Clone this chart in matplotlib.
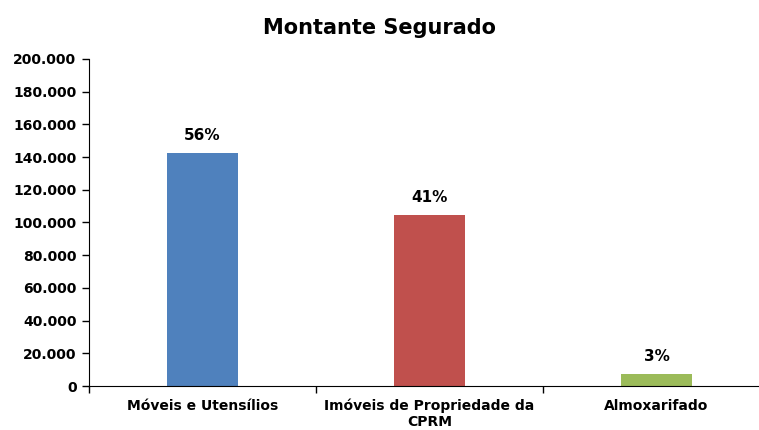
import matplotlib.pyplot as plt
import numpy as np

# data
categories = ['Móveis e Utensílios', 'Imóveis de Propriedade da\nCPRM', 'Almoxarifado']
values = [142500, 104600, 7300]
pct_labels = ['56%', '41%', '3%']
colors = ['#4F81BD', '#C0504D', '#9BBB59']
yticks = list(range(0, 200001, 20000))

plt.rcParams['font.family'] = 'DejaVu Sans'
plt.rcParams['font.weight'] = 'bold'

fig = plt.figure(figsize=(7.59, 4.30), dpi=100)
ax = fig.add_axes([89 / 759, 44 / 430, 681 / 759, 327 / 430])

x = np.arange(len(categories))
bars = ax.bar(x, values, width=0.31, color=colors, zorder=2)

for b, lab in zip(bars, pct_labels):
    ax.annotate(lab, (b.get_x() + b.get_width() / 2, b.get_height()),
                xytext=(0, 7), textcoords='offset points',
                ha='center', va='bottom', fontsize=11, fontweight='bold')

ax.set_xlim(-0.5, len(categories) - 0.5)
ax.set_ylim(0, 200000)
ax.set_yticks(yticks)
ax.set_yticklabels([f'{v:,}'.replace(',', '.') for v in yticks], fontsize=10, fontweight='bold')

# category labels centred, ticks on the category boundaries
ax.set_xticks(x)
ax.set_xticklabels(categories, fontsize=10, fontweight='bold', linespacing=1.15)
ax.tick_params(axis='x', which='major', length=0, pad=9)
ax.set_xticks(np.arange(-0.5, len(categories), 1), minor=True)
ax.tick_params(axis='x', which='minor', length=5, direction='out', width=1)
ax.tick_params(axis='y', length=5, direction='out', width=1, pad=4)

ax.spines['top'].set_visible(False)
ax.spines['right'].set_visible(False)

fig.text(0.5, 0.935, 'Montante Segurado', ha='center', va='center',
         fontsize=15, fontweight='bold')

fig.savefig('out.png', dpi=100)
